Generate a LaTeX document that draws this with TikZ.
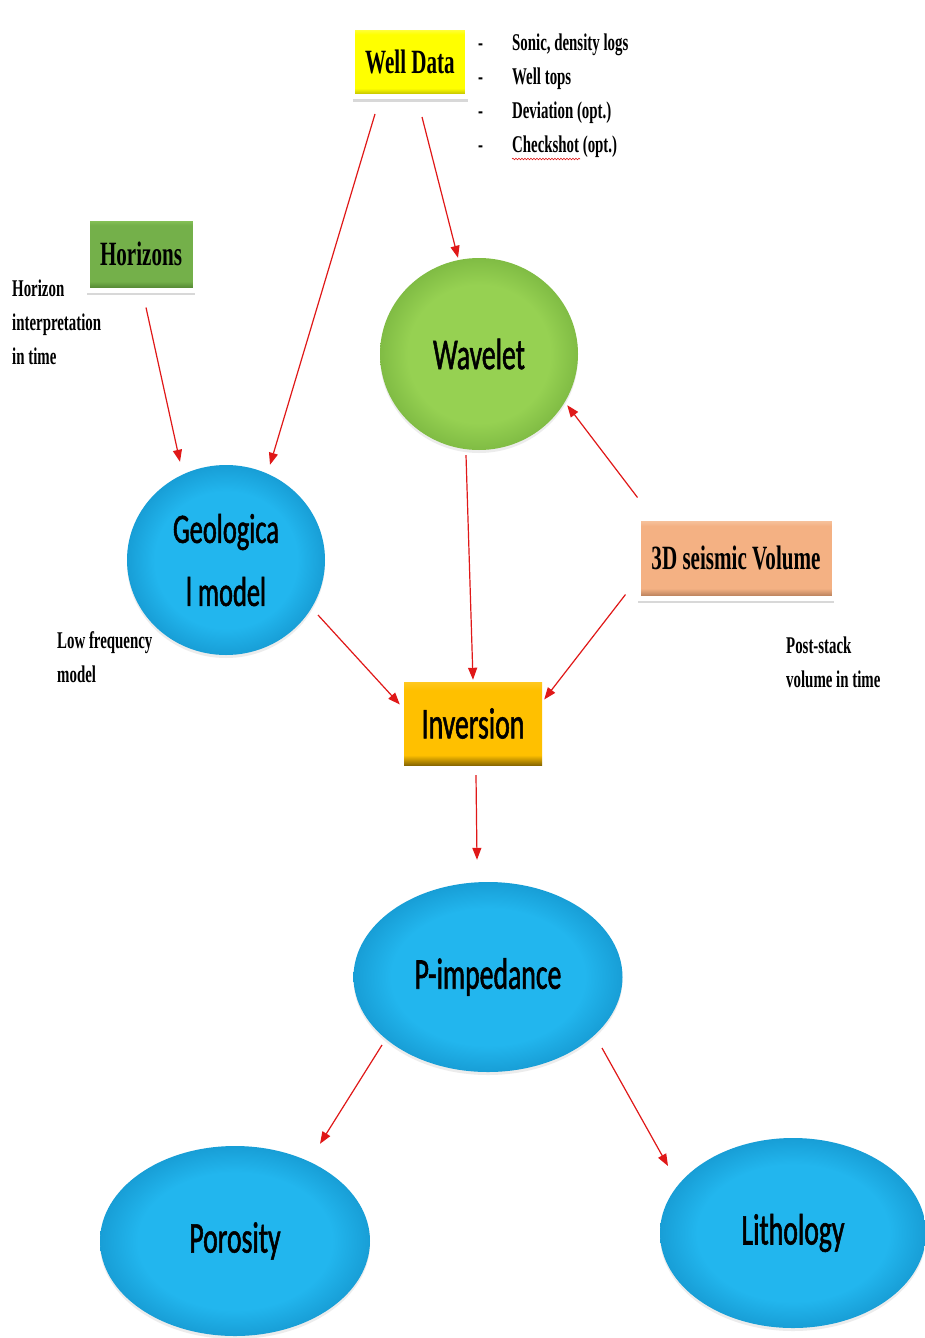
\documentclass[tikz,border=0pt]{standalone}
\usepackage{fontspec}
\newfontfamily\tnrfont[FakeStretch=0.62]{Liberation Serif}
\newfontfamily\calfont[FakeStretch=0.63,FakeBold=1.2]{Carlito}
\usetikzlibrary{shapes.geometric,arrows.meta,calc,shadows,decorations.pathmorphing}
\definecolor{yellowL}{HTML}{FFFF55}
\definecolor{yellowB}{HTML}{FFFF00}
\definecolor{yellowD}{HTML}{A8A800}
\definecolor{greenL}{HTML}{8FCB5F}
\definecolor{greenB}{HTML}{74B04A}
\definecolor{greenD}{HTML}{4A7A2C}
\definecolor{peachL}{HTML}{F8CBAA}
\definecolor{peachB}{HTML}{F4B183}
\definecolor{peachD}{HTML}{A87452}
\definecolor{orangeL}{HTML}{FFC820}
\definecolor{orangeB}{HTML}{FFC000}
\definecolor{orangeD}{HTML}{8A6800}
\definecolor{blueL}{HTML}{22B6EE}
\definecolor{blueD}{HTML}{189ED6}
\definecolor{wgL}{HTML}{96D152}
\definecolor{wgD}{HTML}{80BC44}
\definecolor{arrowred}{HTML}{E01818}
\pgfdeclareverticalshading{wdsh}{100bp}{color(0bp)=(yellowD); color(25bp)=(yellowD); color(31bp)=(yellowB); color(70bp)=(yellowB); color(75bp)=(yellowL); color(100bp)=(yellowL)}
\pgfdeclareverticalshading{horsh}{100bp}{color(0bp)=(greenD); color(25bp)=(greenD); color(31bp)=(greenB); color(70bp)=(greenB); color(75bp)=(greenL); color(100bp)=(greenL)}
\pgfdeclareverticalshading{seissh}{100bp}{color(0bp)=(peachD); color(25bp)=(peachD); color(31bp)=(peachB); color(70bp)=(peachB); color(75bp)=(peachL); color(100bp)=(peachL)}
\pgfdeclareverticalshading{invsh}{100bp}{color(0bp)=(orangeD); color(25bp)=(orangeD); color(31bp)=(orangeB); color(70bp)=(orangeB); color(75bp)=(orangeL); color(100bp)=(orangeL)}
\pgfdeclareradialshading{bluesh}{\pgfpoint{0bp}{0bp}}{color(0bp)=(blueL); color(18bp)=(blueL); color(25bp)=(blueD); color(50bp)=(blueD)}
\pgfdeclareradialshading{wgsh}{\pgfpoint{0bp}{0bp}}{color(0bp)=(wgL); color(18bp)=(wgL); color(25bp)=(wgD); color(50bp)=(wgD)}
\begin{document}
\begin{tikzpicture}[x=1pt,y=-1pt,
  box/.style={rectangle, inner sep=0pt, draw=white, line width=5pt,
    drop shadow={opacity=0.3, shadow xshift=0pt, shadow yshift=-5pt},
    font=\tnrfont\bfseries\fontsize{34}{40}\selectfont},
  ell/.style={ellipse, inner sep=0pt,
    drop shadow={opacity=0.15, shadow xshift=0pt, shadow yshift=-3pt},
    font=\calfont\fontsize{44}{63}\selectfont, align=center},
  arr/.style={draw=arrowred, line width=1.2pt, -{Triangle[length=12pt,width=9pt]}},
  note/.style={font=\tnrfont\bfseries\fontsize{24}{34}\selectfont, inner sep=0pt}
]
\useasboundingbox (0,0) rectangle (925,1338);
\fill[white] (0,0) rectangle (925,1338);

% boxes
\node[box, shading=wdsh, minimum width=115, minimum height=69] (wd) at (410,62) {Well Data};
\node[box, shading=horsh, minimum width=108, minimum height=72] (hor) at (141,254) {Horizons};
\node[box, shading=seissh, minimum width=196, minimum height=80] (seis) at (736,558) {3D seismic Volume};
\node[rectangle, inner sep=0pt, shading=invsh, minimum width=138, minimum height=83,
  font=\calfont\fontsize{44}{63}\selectfont] (inv) at (473,723.5) {Inversion};

% ellipses
\node[ell, shading=wgsh, minimum width=198, minimum height=192] (wav) at (479,354) {Wavelet};
\node[ell, shading=bluesh, minimum width=198, minimum height=190, font=\calfont\fontsize{42}{63}\selectfont] (geo) at (226,560) {Geologica\\l model};
\node[ell, shading=bluesh, minimum width=269, minimum height=190] (pimp) at (488,977) {P-impedance};
\node[ell, shading=bluesh, minimum width=270, minimum height=190] (por) at (235,1241) {Porosity};
\node[ell, shading=bluesh, minimum width=266, minimum height=190] (lith) at (793,1233) {Lithology};

% notes
\node[note, anchor=base west] (wdnote) at (478,51) {\begin{tabular}[t]{@{}l@{\hspace{29pt}}l@{}}
-&Sonic, density logs\\
-&Well tops\\
-&Deviation (opt.)\\
-&Checkshot (opt.)
\end{tabular}};
\draw[arrowred, line width=0.6pt, decorate, decoration={snake, amplitude=0.8pt, segment length=3pt}] (512,159) -- (580,159);
\node[note, anchor=base west] (hornote) at (12,296) {\begin{tabular}[t]{@{}l@{}}Horizon\\interpretation\\in time\end{tabular}};
\node[note, anchor=base west] (geonote) at (57,648) {\begin{tabular}[t]{@{}l@{}}Low frequency\\model\end{tabular}};
\node[note, anchor=base west] (seisnote) at (786,653) {\begin{tabular}[t]{@{}l@{}}Post-stack\\volume in time\end{tabular}};

% connectors
\draw[arr] ($(wd.south)+(-35,15)$) -- ($(geo.north)+(44,0)$);
\draw[arr] ($(wd.south)+(12,18)$) -- ($(wav.north)+(-21,0)$);
\draw[arr] ($(hor.south)+(5,15)$) -- ($(geo.north)+(-46,-3)$);
\draw[arr] ($(wav.south)+(-13,5)$) -- ($(inv.north)+(0,-2)$);
\draw[arr] ($(seis.north west)+(2,-18)$) -- ($(wav.-30)+(3,2)$);
\draw[arr] ($(geo.center)+(92,55)$) -- ($(inv.west)+(-4,-19)$);
\draw[arr] ($(seis.south west)+(-10,-6)$) -- ($(inv.east)+(2,-24)$);
\draw[arr] ($(inv.south)+(3,10)$) -- ($(pimp.north)+(-11,-22)$);
\draw[arr] ($(pimp.center)+(-106,68)$) -- ($(por.north)+(85,-2)$);
\draw[arr] ($(pimp.center)+(114,71)$) -- ($(lith.center)+(-125,-67)$);
\end{tikzpicture}
\end{document}
